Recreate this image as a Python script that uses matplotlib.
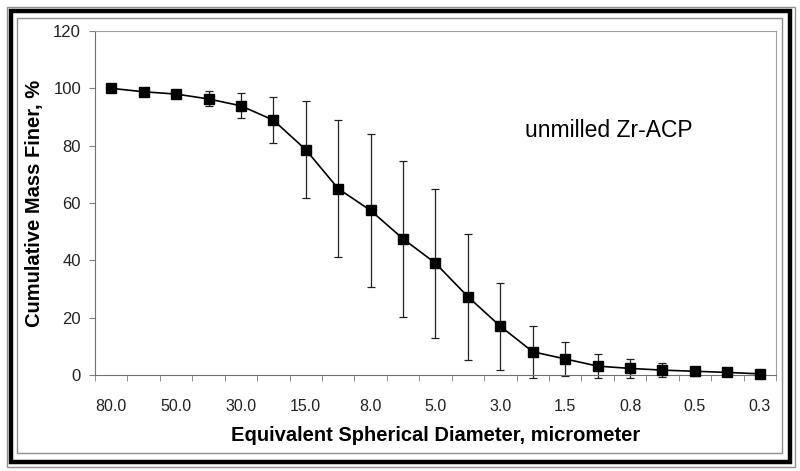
import numpy as np
import matplotlib
matplotlib.use("Agg")
import matplotlib.pyplot as plt
from matplotlib.patches import Rectangle

plt.rcParams['font.family'] = ['Liberation Sans', 'DejaVu Sans']

# particle size categories (micrometer), every other one is labelled
sizes = ['80.0', '60.0', '50.0', '40.0', '30.0', '20.0', '15.0', '10.0', '8.0', '6.0', '5.0',
         '4.0', '3.0', '2.0', '1.5', '1.0', '0.8', '0.6', '0.5', '0.4', '0.3']
mass_finer = [100.0, 98.8, 98.0, 96.3, 93.9, 88.9, 78.6, 65.0, 57.4, 47.5, 39.0,
              27.3, 17.0, 8.1, 5.6, 3.1, 2.3, 1.7, 1.3, 0.9, 0.4]
std_dev = [0.0, 0.0, 0.0, 2.6, 4.3, 8.1, 17.0, 24.0, 26.6, 27.3, 26.0,
           21.9, 15.2, 9.0, 6.0, 4.2, 3.4, 2.5, 1.5, 0.5, 0.0]

fig = plt.figure(figsize=(8, 4.71), dpi=100)
ax = fig.add_axes([95 / 800, 1 - 375 / 471, (776 - 95) / 800, (375 - 31) / 471])

x = np.arange(len(sizes))
eb = ax.errorbar(x, mass_finer, yerr=std_dev, fmt='none', ecolor='#222222', elinewidth=0.9,
                 capsize=3.2, capthick=0.9, zorder=2)
for art in eb.get_children():
    art.set_clip_on(False)
ax.plot(x, mass_finer, color='black', lw=1.2, marker='s', markersize=7.5,
        markerfacecolor='black', markeredgecolor='black', zorder=3, clip_on=False)

ax.set_xlim(-0.5, len(sizes) - 0.5)
ax.set_ylim(0, 120)
ax.set_yticks(np.arange(0, 121, 20))
ax.set_xticks(x[::2])
ax.set_xticklabels(sizes[::2])
ax.set_xticks(np.arange(-0.5, len(sizes)), minor=True)
ax.tick_params(axis='x', which='major', length=0, pad=17, labelsize=11.5, labelcolor='#222222')
ax.tick_params(axis='x', which='minor', length=4, direction='out', color='#808080')
ax.tick_params(axis='y', length=4, direction='out', color='#808080', pad=6,
               labelsize=12, labelcolor='#222222')

for side in ['left', 'bottom']:
    ax.spines[side].set_color('#707070')
for side in ['top', 'right']:
    ax.spines[side].set_color('#a0a0a0')

ax.set_xlabel('Equivalent Spherical Diameter, micrometer', fontsize=14.5,
              fontweight='bold', labelpad=9)
ax.set_ylabel('Cumulative Mass Finer, %', fontsize=14.5, fontweight='bold', labelpad=7)

ax.text(0.755, 0.71, 'unmilled Zr-ACP', transform=ax.transAxes, fontsize=16.5,
        ha='center', va='center')

# double frame around the chart
W, H = 800, 471
def frame(x0, y0, x1, y1, color, lw):
    fig.patches.append(Rectangle((x0 / W, 1 - y1 / H), (x1 - x0) / W, (y1 - y0) / H,
                                 transform=fig.transFigure, fill=False,
                                 edgecolor=color, linewidth=lw))

frame(7, 7, 795, 467, '#909090', 1.0)
frame(10.5, 10.5, 789.5, 461.5, 'black', 3.2)
frame(17, 18, 782, 453, '#909090', 1.0)

fig.savefig('out.png', dpi=100)
